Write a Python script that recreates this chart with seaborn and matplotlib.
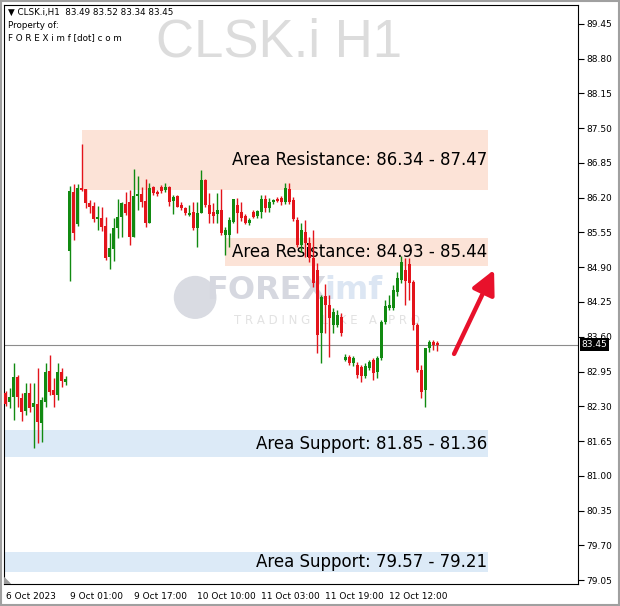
import numpy as np
import pandas as pd
import matplotlib
matplotlib.use('Agg')
import matplotlib.pyplot as plt
import matplotlib.transforms as mtransforms
from matplotlib.patches import Rectangle, Circle, Polygon
import seaborn as sns

# H1 свечи CLSK.i (6 Oct - 12 Oct 2023)
opens = [82.55, 82.38, 82.47, 82.85, 82.45, 82.21, 82.55, 82.29, 82.34, 81.99,
         82.38, 82.96, 82.60, 82.51, 82.94, 82.75,
         85.20, 86.31, 85.71, 86.38, 86.36, 86.10, 86.05, 85.80, 85.82, 85.67,
         85.09, 85.24, 85.63, 85.84, 86.08, 86.12, 85.47, 86.23, 86.27, 86.14,
         85.73, 86.40, 86.31, 86.40, 86.35, 86.40, 86.14, 86.23, 86.06, 86.01,
         85.88, 85.93, 85.63, 85.91, 86.53, 86.06, 85.93, 85.90, 85.97, 85.50,
         85.50, 85.75, 86.06, 85.93, 85.86, 85.73, 85.93, 85.86, 85.93, 86.18,
         86.01, 86.12, 86.18, 86.20, 86.12, 86.36, 86.16, 85.78, 85.32, 85.56,
         85.35, 85.07, 84.85, 83.67, 84.36, 84.19, 83.82, 83.82, 83.97, 83.17,
         83.22, 83.11, 83.07, 83.03, 82.87, 83.02, 83.17, 82.94, 83.20, 83.88,
         84.14, 84.14, 84.44, 84.66, 84.85, 84.96, 84.62, 83.82, 82.98, 82.60,
         83.39, 83.50, 83.49]
highs = [82.58, 82.64, 83.11, 82.88, 82.55, 82.73, 82.73, 82.73, 83.02, 82.47,
         83.11, 83.26, 82.83, 83.11, 83.02, 82.87,
         86.42, 86.46, 86.46, 87.21, 86.36, 86.16, 86.12, 86.05, 86.03, 85.84,
         85.54, 85.82, 86.18, 86.12, 86.31, 86.35, 86.74, 86.61, 86.40, 86.55,
         86.48, 86.42, 86.35, 86.44, 86.48, 86.42, 86.25, 86.25, 86.12, 86.03,
         86.06, 86.12, 86.12, 86.72, 86.55, 86.29, 86.10, 86.29, 86.36, 85.65,
         85.84, 86.18, 86.20, 86.12, 85.90, 85.82, 85.97, 85.97, 86.25, 86.25,
         86.20, 86.18, 86.21, 86.23, 86.48, 86.48, 86.21, 85.84, 85.73, 85.78,
         85.47, 85.60, 84.98, 84.38, 84.59, 84.38, 84.14, 84.10, 84.04, 83.28,
         83.26, 83.24, 83.13, 83.07, 83.11, 83.17, 83.20, 83.24, 83.91, 84.29,
         84.38, 84.57, 84.81, 85.11, 85.07, 85.07, 84.66, 83.86, 83.07, 83.39,
         83.54, 83.54, 83.52]
lows = [82.30, 82.27, 82.04, 82.29, 82.02, 82.14, 82.19, 81.52, 81.61, 81.63,
        82.29, 82.51, 82.29, 82.42, 82.66, 82.70,
        84.64, 85.41, 85.67, 86.33, 86.01, 85.91, 85.75, 85.60, 85.58, 85.04,
        84.87, 85.02, 85.45, 85.47, 85.88, 85.32, 85.47, 85.97, 86.03, 85.65,
        85.73, 86.25, 86.23, 86.29, 86.31, 86.05, 85.90, 86.03, 85.97, 85.88,
        85.86, 85.60, 85.28, 85.91, 86.03, 85.73, 85.73, 85.73, 85.50, 85.13,
        85.28, 85.73, 85.54, 85.76, 85.71, 85.69, 85.82, 85.82, 85.82, 85.93,
        85.93, 86.08, 86.12, 86.06, 86.08, 86.08, 85.76, 85.28, 85.19, 85.09,
        85.00, 84.53, 83.30, 83.11, 83.67, 83.22, 83.67, 83.78, 83.61, 83.15,
        83.07, 83.05, 82.83, 82.75, 82.83, 82.98, 82.79, 82.83, 83.17, 83.84,
        84.10, 84.10, 84.36, 84.61, 84.19, 84.29, 83.73, 82.94, 82.45, 82.29,
        83.31, 83.35, 83.34]
closes = [82.34, 82.47, 82.85, 82.47, 82.19, 82.55, 82.27, 82.36, 82.01, 82.42,
          82.94, 82.57, 82.51, 82.94, 82.77, 82.81,
          86.33, 85.54, 86.38, 86.35, 86.10, 86.03, 85.80, 85.84, 85.65, 85.07,
          85.26, 85.63, 85.84, 86.10, 85.91, 85.47, 86.23, 86.27, 86.12, 85.73,
          86.38, 86.29, 86.27, 86.33, 86.40, 86.12, 86.21, 86.03, 86.01, 85.91,
          85.91, 85.63, 85.91, 86.53, 86.06, 85.90, 85.86, 85.97, 85.54, 85.60,
          85.78, 86.18, 85.91, 85.82, 85.73, 85.78, 85.84, 85.95, 86.18, 86.01,
          86.12, 86.16, 86.14, 86.12, 86.38, 86.12, 85.80, 85.32, 85.60, 85.35,
          85.07, 84.61, 83.63, 84.34, 84.19, 83.95, 84.06, 84.01, 83.67, 83.22,
          83.11, 83.20, 82.88, 82.87, 83.05, 83.13, 82.92, 83.20, 83.88, 84.17,
          84.19, 84.47, 84.70, 85.00, 84.64, 84.61, 83.82, 82.98, 82.57, 83.39,
          83.50, 83.45, 83.45]

x_tick_bars = [0, 16, 32, 48, 64, 80, 96]
x_tick_labels = ['6 Oct 2023', '9 Oct 01:00', '9 Oct 17:00', '10 Oct 10:00',
                 '11 Oct 03:00', '11 Oct 19:00', '12 Oct 12:00']
y_tick_values = [79.05, 79.70, 80.35, 81.00, 81.65, 82.30, 82.95, 83.60,
                 84.25, 84.90, 85.55, 86.20, 86.85, 87.50, 88.15, 88.80, 89.45]

# зоны
zone_labels = ['Area Resistance: 86.34 - 87.47', 'Area Resistance: 84.93 - 85.44',
               'Area Support: 81.85 - 81.36', 'Area Support: 79.57 - 79.21']
zone_low = [86.34, 84.93, 81.36, 79.21]
zone_high = [87.47, 85.44, 81.85, 79.57]
zone_start = [19.2, 54.9, -0.4, -0.4]
zone_type = ['res', 'res', 'sup', 'sup']
zone_end = 120.7

last_price = 83.45
header = 'CLSK.i,H1  83.49 83.52 83.34 83.45'
arrow_tail = (112.2, 83.28)
arrow_tip = (122.2, 84.85)

GREEN = '#118A11'
RED = '#E3141B'
ZONE_COLORS = {'res': '#FCE3D7', 'sup': '#DCEAF7'}

sns.set_style('white')
plt.rcParams['font.family'] = ['DejaVu Sans']

df = pd.DataFrame({'open': opens, 'high': highs, 'low': lows, 'close': closes})
df['bar'] = np.arange(len(df))
df['color'] = np.where(df['close'] >= df['open'], GREEN, RED)
df['body_lo'] = df[['open', 'close']].min(axis=1)
df['body_h'] = (df['open'] - df['close']).abs().clip(lower=0.025)

fig = plt.figure(figsize=(6.2, 6.06), dpi=100)
ax = fig.add_axes([4 / 620, 1 - 584 / 606, 574 / 620, 579 / 606])
ax.set_xlim(-0.4, 143.2)
ax.set_ylim(78.98, 89.80)

# водяные знаки
ax.text(0.48, 0.935, 'CLSK.i H1', transform=ax.transAxes, ha='center', va='center',
        fontsize=38, color='#DCDCDC', family=['Liberation Sans'], zorder=0)
ax.add_patch(Circle((0.333, 0.495), 0.036, transform=ax.transAxes,
                    color='#D9DBE2', zorder=0.5))
ax.text(0.353, 0.507, 'FOREX', transform=ax.transAxes, ha='left', va='center',
        fontsize=23, fontweight='bold', color='#D6D8E0', zorder=0.5)
ax.text(0.558, 0.507, 'imf', transform=ax.transAxes, ha='left', va='center',
        fontsize=23, fontweight='bold', color='#DCE6F3', zorder=0.5)
ax.text(0.40, 0.455, 'T R A D I N G   L I K E   A   P R O', transform=ax.transAxes,
        ha='left', va='center', fontsize=8.5, color='#E2E2E2', zorder=0.5)

# зоны сопротивления / поддержки
for lab, lo, hi, st, kind in zip(zone_labels, zone_low, zone_high, zone_start, zone_type):
    ax.add_patch(Rectangle((st, lo), zone_end - st, hi - lo, facecolor=ZONE_COLORS[kind],
                           edgecolor='none', zorder=1))
    ax.text(zone_end - 0.3, (lo + hi) / 2, lab, ha='right', va='center',
            fontsize=12, color='black', zorder=2)

ax.axhline(last_price, color='#8C8C8C', lw=0.8, zorder=1.5)

# свечи
ax.vlines(df['bar'], df['low'], df['high'], colors=df['color'], lw=1, zorder=3)
ax.bar(df['bar'], df['body_h'], bottom=df['body_lo'], width=0.72,
       color=df['color'], linewidth=0, zorder=3)

ax.annotate('', xy=arrow_tip, xytext=arrow_tail,
            arrowprops=dict(arrowstyle='-|>,head_length=0.9,head_width=0.45',
                            lw=3.2, color='#E8112B', mutation_scale=16,
                            shrinkA=0, shrinkB=0), zorder=4)

# оси
ax.yaxis.tick_right()
ax.set_yticks(y_tick_values)
ax.set_yticklabels([f'{v:.2f}' for v in y_tick_values])
ax.set_xticks(x_tick_bars)
ax.set_xticklabels(x_tick_labels)
for t in ax.get_xticklabels():
    t.set_horizontalalignment('left')
ax.tick_params(axis='both', direction='out', length=4, width=0.8, labelsize=6.5,
               colors='black', pad=2)
for s in ax.spines.values():
    s.set_color('black')
    s.set_linewidth(0.8)

trans = mtransforms.blended_transform_factory(ax.transAxes, ax.transData)
ax.text(1.006, last_price, '83.45', transform=trans, ha='left', va='center',
        fontsize=6.5, color='white', zorder=6,
        bbox=dict(boxstyle='square,pad=0.2', fc='black', ec='none'))

ax.add_patch(Polygon([[0, 0], [0.011, 0], [0, 0.011]], closed=True,
                     transform=ax.transAxes, color='#9A9A9A', zorder=5))

# заголовок
ax.text(0.007, 0.995, '\u25bc ' + header, transform=ax.transAxes, ha='left', va='top',
        fontsize=6.3, color='black', zorder=6)
ax.text(0.007, 0.973, 'Property of:', transform=ax.transAxes, ha='left', va='top',
        fontsize=6.3, color='black', zorder=6)
ax.text(0.007, 0.951, 'F O R E X i m f [dot] c o m', transform=ax.transAxes,
        ha='left', va='top', fontsize=6.3, color='black', zorder=6)

fig.patches.append(Rectangle((0.001, 0.001), 0.997, 0.997, transform=fig.transFigure,
                             fill=False, edgecolor='#A0A0A0', lw=1.5))

fig.savefig('out.png', dpi=100, facecolor='white')
